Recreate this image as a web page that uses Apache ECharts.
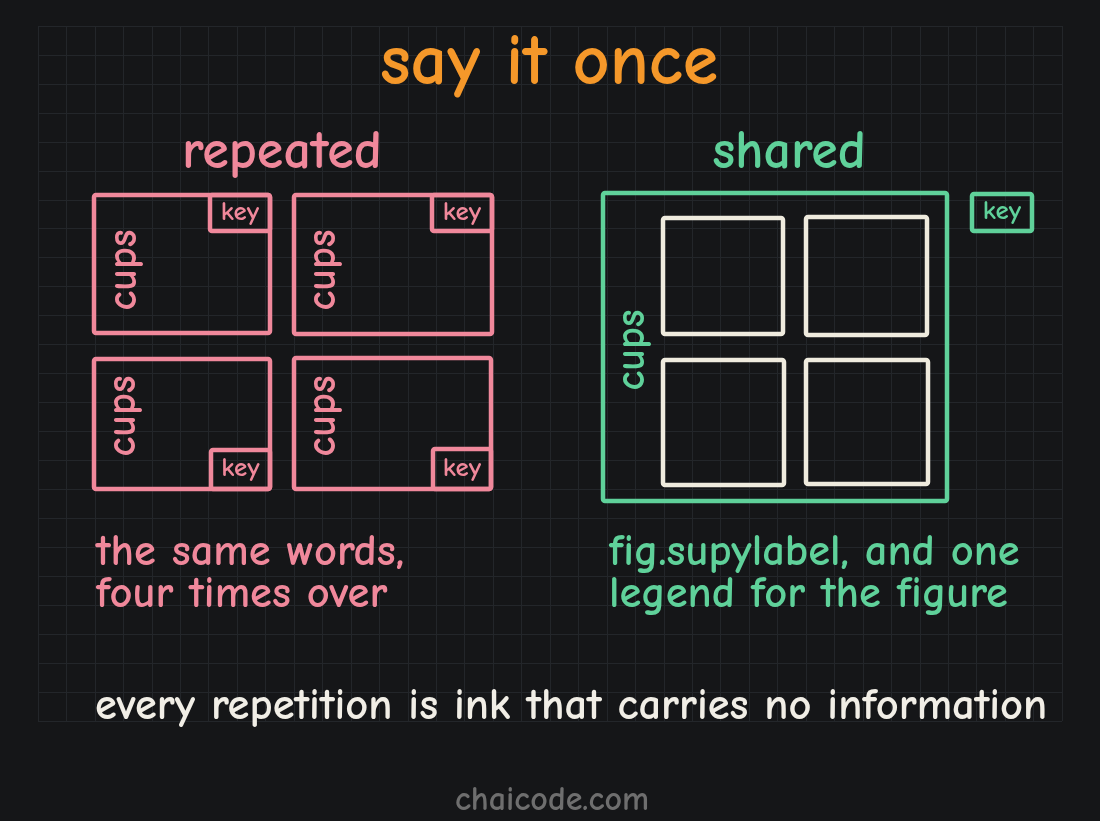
<!DOCTYPE html>
<html>
<head>
<meta charset="utf-8">
<script src="https://cdn.jsdelivr.net/npm/echarts@6/dist/echarts.min.js"></script>
<style>
html,body{margin:0;padding:0;background:#151618;}
#chart{width:1100px;height:821px;}
</style>
</head>
<body>
<div id="chart"></div>
<script>
// ---- data (diagram coordinates, in canvas units) ----
var titleText = ['say it once'];
var panelTitles = [['repeated', 282, 153], ['shared', 789, 153]];
var pinkBoxes = [[94,195,270,333],[294,195,492,334],[94,359,270,489],[294,358,491,489]];
var pinkKeys = [[210,195,270,231],[432,195,492,231],[211,450,270,489],[433,449,491,489]];
var pinkCups = [[124,270],[323,270],[123,416],[323,416]];
var greenFrame = [[603,193,947,501]];
var greenKey = [[972,194,1032,231]];
var greenCups = [[632,350]];
var whitePanels = [[663,218,783,334],[806,217,927,335],[663,360,784,485],[806,360,928,484]];
var leftNote = ['the same words,', 'four times over'];
var rightNote = ['fig.supylabel, and one', 'legend for the figure'];
var moral = ['every repetition is ink that carries no information'];
var credit = ['chaicode.com'];
var gridCols = 36, gridRows = 24;

var FONT = '"Comic Sans MS","Comic Neue","Lato","Noto Sans",sans-serif';
var PINK = '#f0889b', GREEN = '#5fd19a', ORANGE = '#f5982a', CREAM = '#efebde', WHITE = '#f1eee6';

function rectSeries(data, color, lw, z) {
  return {
    type: 'custom', xAxisIndex: 0, yAxisIndex: 0, z: z || 3, silent: true,
    data: data,
    renderItem: function (params, api) {
      var p0 = api.coord([api.value(0), api.value(1)]);
      var p1 = api.coord([api.value(2), api.value(3)]);
      return {
        type: 'rect',
        shape: { x: p0[0], y: p0[1], width: p1[0] - p0[0], height: p1[1] - p0[1], r: 2 },
        style: { fill: 'none', stroke: color, lineWidth: lw, lineJoin: 'round' }
      };
    }
  };
}

function textSeries(items, color, size, align, rot, weight) {
  // items: [text, x, y]
  return {
    type: 'custom', xAxisIndex: 0, yAxisIndex: 0, z: 4, silent: true,
    data: items.map(function (d) { return [d[1], d[2]]; }),
    renderItem: function (params, api) {
      var p = api.coord([api.value(0), api.value(1)]);
      return {
        type: 'text', x: p[0], y: p[1], rotation: rot || 0,
        style: {
          text: items[params.dataIndex][0], fill: color,
          font: (weight || 'bold') + ' ' + size + 'px ' + FONT,
          textAlign: align || 'center', textVerticalAlign: 'middle'
        }
      };
    }
  };
}

function keyLabels(boxes) {
  return boxes.map(function (b) { return ['key', (b[0] + b[2]) / 2, (b[1] + b[3]) / 2 - 1]; });
}
function cupsLabels(pts) { return pts.map(function (p) { return ['cups', p[0], p[1]]; }); }

var chart = echarts.init(document.getElementById('chart'));
chart.setOption({
  backgroundColor: '#151618',
  animation: false,
  grid: [
    { left: 0, top: 0, width: 1100, height: 821, show: false },
    { left: 38, top: 26, width: 1024, height: 695, show: false }
  ],
  xAxis: [
    { type: 'value', gridIndex: 0, min: 0, max: 1100, show: false },
    { type: 'value', gridIndex: 1, min: 0, max: gridCols, interval: 1,
      axisLine: { show: false }, axisTick: { show: false }, axisLabel: { show: false },
      splitLine: { show: true, lineStyle: { color: '#23262a', width: 1 } } }
  ],
  yAxis: [
    { type: 'value', gridIndex: 0, min: 0, max: 821, inverse: true, show: false },
    { type: 'value', gridIndex: 1, min: 0, max: gridRows, interval: 1,
      axisLine: { show: false }, axisTick: { show: false }, axisLabel: { show: false },
      splitLine: { show: true, lineStyle: { color: '#23262a', width: 1 } } }
  ],
  series: [
    rectSeries(pinkBoxes, PINK, 4.5),
    rectSeries(pinkKeys, PINK, 4.5),
    rectSeries(greenFrame, GREEN, 4.5),
    rectSeries(greenKey, GREEN, 4.5),
    rectSeries(whitePanels, CREAM, 4.5),
    textSeries([[titleText[0], 549, 64]], ORANGE, 72),
    textSeries([panelTitles[0]], PINK, 54),
    textSeries([panelTitles[1]], GREEN, 54),
    textSeries(keyLabels(pinkKeys), PINK, 27),
    textSeries(keyLabels(greenKey), GREEN, 27),
    textSeries(cupsLabels(pinkCups), PINK, 42, 'center', Math.PI / 2),
    textSeries(cupsLabels(greenCups), GREEN, 42, 'center', Math.PI / 2),
    textSeries([[leftNote[0], 96, 552], [leftNote[1], 96, 594]], PINK, 44.5, 'left'),
    textSeries([[rightNote[0], 609, 552], [rightNote[1], 609, 594]], GREEN, 44.5, 'left'),
    textSeries([[moral[0], 95, 706]], WHITE, 44.5, 'left'),
    textSeries([[credit[0], 552, 800]], '#6e6e6e', 34)
  ]
});
</script>
</body>
</html>
